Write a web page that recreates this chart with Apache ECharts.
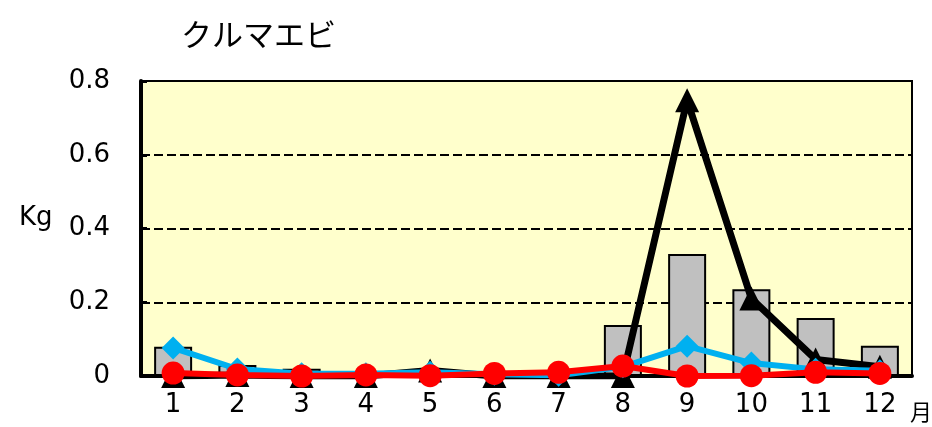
<!DOCTYPE html>
<html><head><meta charset="utf-8">
<script src="https://cdn.jsdelivr.net/npm/echarts@6/dist/echarts.min.js"></script>
<style>html,body{margin:0;padding:0;background:#fff}#c{width:932px;height:427px}</style>
</head><body><div id="c"></div>
<script>
var months = ['1','2','3','4','5','6','7','8','9','10','11','12'];
var barValues = [0.079, 0.030, 0.020, 0.010, 0.006, 0.004, 0.002, 0.138, 0.331, 0.235, 0.157, 0.082];
var blackValues = [0.000, 0.003, 0.000, 0.000, 0.015, 0.000, 0.000, 0.000, 0.748, 0.210, 0.045, 0.025];
var blueValues = [0.076, 0.019, 0.006, 0.006, 0.010, 0.005, 0.002, 0.025, 0.081, 0.035, 0.018, 0.014];
var redValues = [0.008, 0.003, 0.000, 0.003, 0.001, 0.007, 0.010, 0.027, 0.000, 0.001, 0.010, 0.007];
var yTicks = [0, 0.2, 0.4, 0.6, 0.8];

var chart = echarts.init(document.getElementById('c'));
var numFont = '"DejaVu Sans", sans-serif';
chart.setOption({
  animation: false,
  grid: {left: 141, right: 20, top: 81, bottom: 51, show: true, backgroundColor: '#ffffcc', borderColor: '#000', borderWidth: 2},
  title: {text: 'クルマエビ', left: 176, top: 14, textStyle: {fontFamily: '"Noto Sans CJK JP", sans-serif', fontSize: 31, fontWeight: 'normal', color: '#000'}},
  graphic: [
    {type: 'text', left: 19, top: 205, style: {text: 'Kg', font: '26px ' + numFont, fill: '#000'}},
    {type: 'text', left: 910, top: 401, style: {text: '月', font: '22px "Noto Sans CJK JP", sans-serif', fill: '#000'}}
  ],
  xAxis: {
    type: 'category', data: months, boundaryGap: true,
    axisLine: {lineStyle: {color: '#000', width: 4}},
    axisTick: {show: false},
    axisLabel: {fontFamily: numFont, fontSize: 26, color: '#000', margin: 16}
  },
  yAxis: {
    type: 'value', min: 0, max: 0.8, interval: 0.2,
    axisLine: {show: true, lineStyle: {color: '#000', width: 4}},
    axisTick: {show: true, inside: true, length: 6, lineStyle: {color: '#000', width: 3}},
    axisLabel: {fontFamily: numFont, fontSize: 26, color: '#000', margin: 31,
      formatter: function (v) { return yTicks.indexOf(v) >= 0 ? String(v) : ''; }},
    splitLine: {show: true, lineStyle: {color: '#000', width: 2, type: [9, 4]}}
  },
  series: [
    {type: 'bar', data: barValues, barWidth: 38, itemStyle: {color: '#c0c0c0', borderColor: '#000', borderWidth: 2}, z: 2},
    {type: 'line', data: blackValues, symbol: 'triangle', symbolSize: 24, lineStyle: {color: '#000', width: 7}, itemStyle: {color: '#000'}, z: 3},
    {type: 'line', data: blueValues, symbol: 'diamond', symbolSize: 23, lineStyle: {color: '#00b0f0', width: 6}, itemStyle: {color: '#00b0f0'}, z: 4},
    {type: 'line', data: redValues, symbol: 'circle', symbolSize: 23, lineStyle: {color: '#ff0000', width: 6}, itemStyle: {color: '#ff0000'}, z: 5}
  ]
});
</script></body></html>
